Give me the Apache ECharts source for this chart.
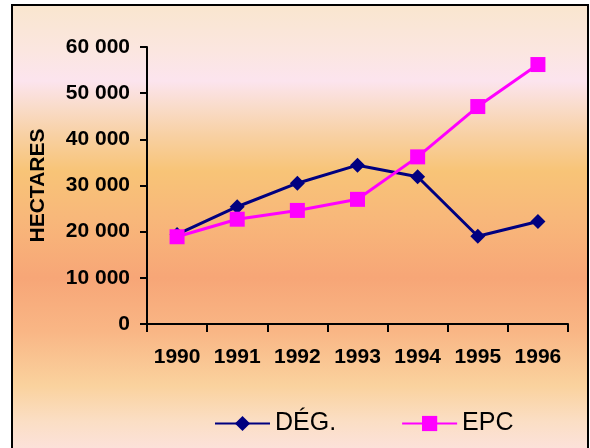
<!DOCTYPE html>
<html>
<head>
<meta charset="utf-8">
<script src="https://cdn.jsdelivr.net/npm/echarts@6/dist/echarts.min.js"></script>
<style>
  html, body { margin: 0; padding: 0; width: 590px; height: 448px; overflow: hidden; background: #ffffff; }
  #frame {
    position: absolute; left: 11px; top: 4px; width: 574px; height: 470px;
    border: 2px solid #000;
    background: linear-gradient(to bottom,
      #F9E6CF 0px, #FBE6E0 45px, #FCE4EE 75px, #F9DCCB 100px, #F8D0A2 130px,
      #F8C477 165px, #F8B87A 210px, #F7A677 272px, #F9B685 325px,
      #FAD29E 380px, #FBDEC4 415px, #FCE2DC 445px);
  }
  #chart { position: absolute; left: 0; top: 0; width: 590px; height: 448px; }
</style>
</head>
<body>
<div id="frame"></div>
<div id="chart"></div>
<script>
const years = ['1990', '1991', '1992', '1993', '1994', '1995', '1996'];
const degValues = [19400, 25400, 30500, 34400, 31900, 19000, 22200];
const epcValues = [18900, 22700, 24600, 27000, 36200, 47100, 56200];
const seriesNames = ['DÉG.', 'EPC'];
const yTicks = { min: 0, max: 60000, interval: 10000 };
const yAxisName = 'HECTARES';

const chart = echarts.init(document.getElementById('chart'), null, { renderer: 'canvas' });
const fmt = v => {
  const s = String(v);
  return s.length > 3 ? s.slice(0, s.length - 3) + ' ' + s.slice(-3) : s;
};
const FONT = 'Liberation Sans, Arial, sans-serif';
chart.setOption({
  backgroundColor: 'transparent',
  animation: false,
  textStyle: { fontFamily: FONT },
  grid: { left: 147, right: 22, top: 47, bottom: 124, containLabel: false },
  legend: {
    data: seriesNames,
    left: 214, top: 411, padding: 0,
    itemWidth: 55, itemHeight: 19, itemGap: 65,
    textStyle: { fontSize: 25, color: '#000', fontFamily: FONT }
  },
  xAxis: {
    type: 'category', data: years, boundaryGap: true,
    axisLine: { lineStyle: { color: '#000', width: 2 } },
    axisTick: { show: true, interval: 0, length: 8, lineStyle: { color: '#000', width: 2 } },
    axisLabel: { interval: 0, hideOverlap: false, color: '#000', fontSize: 21, fontWeight: 'bold', margin: 23, fontFamily: FONT },
    splitLine: { show: false }
  },
  yAxis: {
    type: 'value', min: yTicks.min, max: yTicks.max, interval: yTicks.interval,
    name: yAxisName, nameLocation: 'middle', nameGap: 98, nameRotate: 90,
    nameTextStyle: { color: '#000', fontSize: 21, fontWeight: 'bold', fontFamily: FONT },
    axisLine: { show: true, lineStyle: { color: '#000', width: 2 } },
    axisTick: { show: true, length: 7, lineStyle: { color: '#000', width: 2 } },
    axisLabel: { color: '#000', fontSize: 21, fontWeight: 'bold', margin: 17, formatter: fmt, fontFamily: FONT },
    splitLine: { show: false }
  },
  series: [
    {
      name: seriesNames[0], type: 'line', data: degValues,
      symbol: 'diamond', symbolSize: 15, showAllSymbol: true,
      lineStyle: { color: '#000080', width: 3 },
      itemStyle: { color: '#000080' }, z: 2
    },
    {
      name: seriesNames[1], type: 'line', data: epcValues,
      symbol: 'rect', symbolSize: 15, showAllSymbol: true,
      lineStyle: { color: '#FF00FF', width: 3 },
      itemStyle: { color: '#FF00FF' }, z: 3
    }
  ]
});
</script>
</body>
</html>
